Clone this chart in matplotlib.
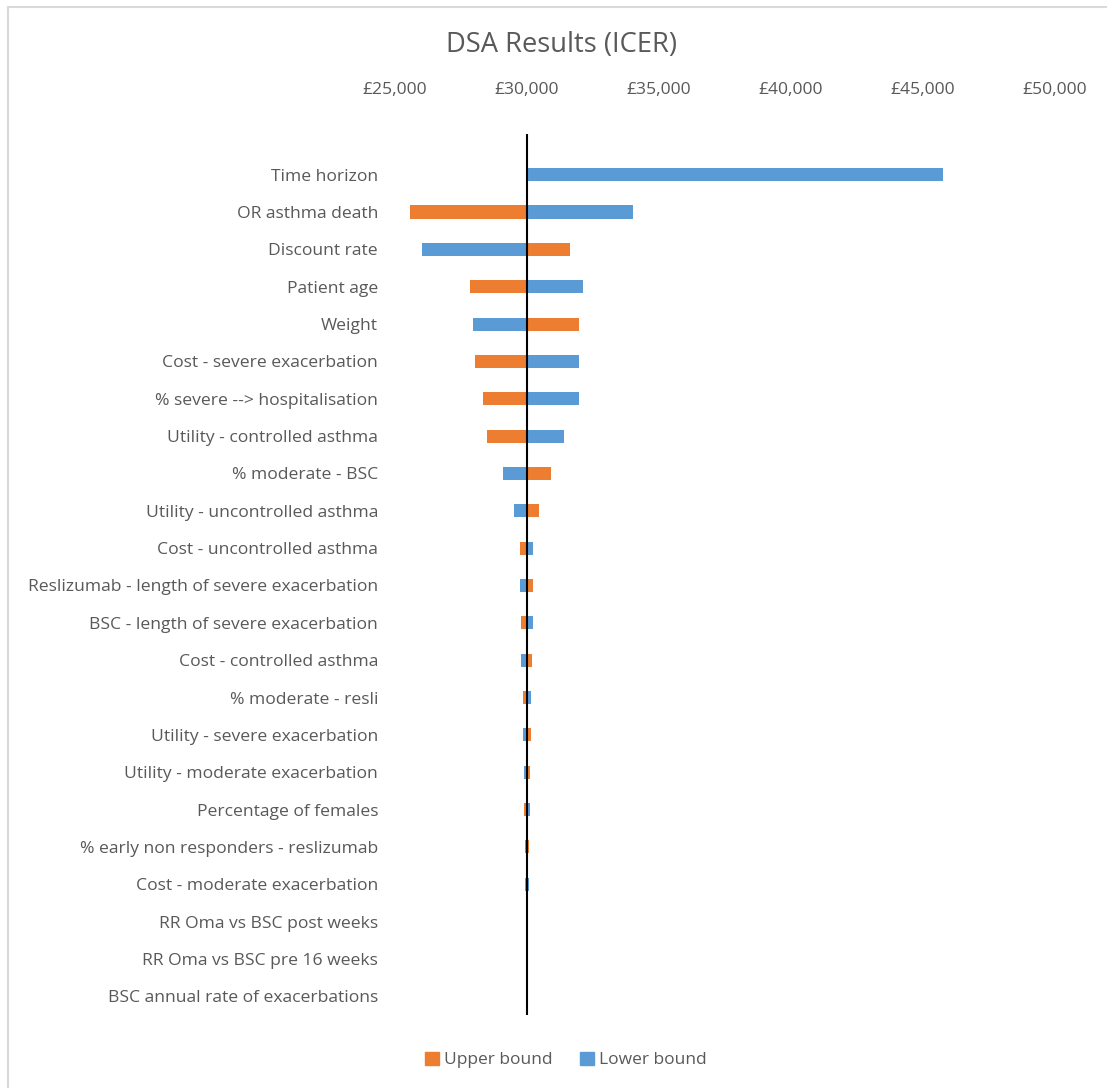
import numpy as np
import matplotlib.pyplot as plt
from matplotlib.patches import Rectangle, Patch
from matplotlib.ticker import FuncFormatter

# DSA tornado data, base case ICER = 30000
base = 30000
params = ["Time horizon", "OR asthma death", "Discount rate", "Patient age", "Weight",
          "Cost - severe exacerbation", "% severe --> hospitalisation",
          "Utility - controlled asthma", "% moderate - BSC", "Utility - uncontrolled asthma",
          "Cost - uncontrolled asthma", "Reslizumab - length of severe exacerbation",
          "BSC - length of severe exacerbation", "Cost - controlled asthma",
          "% moderate - resli", "Utility - severe exacerbation",
          "Utility - moderate exacerbation", "Percentage of females",
          "% early non responders - reslizumab", "Cost - moderate exacerbation",
          "RR Oma vs BSC post weeks", "RR Oma vs BSC pre 16 weeks",
          "BSC annual rate of exacerbations"]
upper = [30000, 25580, 31630, 27850, 31990, 28030, 28345, 28500, 30930, 30480,
         29745, 30227, 29785, 30190, 29850, 30150, 30125, 29885, 30085, 29935,
         30000, 30000, 30000]
lower = [45770, 34015, 26020, 32140, 27980, 31980, 31970, 31400, 29115, 29520,
         30250, 29745, 30240, 29795, 30150, 29850, 29885, 30125, 29935, 30075,
         30000, 30000, 30000]

orange = "#ED7D31"
blue = "#5B9BD5"
grey = "#595959"
font = "Open Sans"

fig = plt.figure(figsize=(11.07, 10.88), dpi=100)
W, H = 1107, 1088
ax = fig.add_axes([394.7 / W, (H - 1015) / H, 660 / W, 881 / H])

n = len(params)
y = np.arange(n)[::-1]
up = np.array(upper) - base
lo = np.array(lower) - base
ax.barh(y, up, left=base, height=0.35, color=orange, label="Upper bound")
ax.barh(y, lo, left=base, height=0.35, color=blue, label="Lower bound")
ax.axvline(base, color="black", lw=1.5)

ax.set_xlim(25000, 50000)
ax.set_ylim(-0.5, n - 0.5 + 22 / 37.35)
ax.xaxis.tick_top()
ax.set_xticks(np.arange(25000, 50001, 5000))
ax.xaxis.set_major_formatter(FuncFormatter(lambda v, p: "£{:,.0f}".format(v)))
ax.set_yticks(y)
ax.set_yticklabels(params)
ax.tick_params(length=0, colors=grey, labelsize=12.6)
ax.tick_params(axis="x", pad=26)
ax.tick_params(axis="y", pad=12)
for lab in ax.get_xticklabels() + ax.get_yticklabels():
    lab.set_fontfamily(font)
for s in ax.spines.values():
    s.set_visible(False)

fig.text(561 / W, 1 - 45 / H, "DSA Results (ICER)", ha="center", va="center",
         fontsize=19.7, color=grey, family=font)

handles = [Patch(color=orange, label="Upper bound"), Patch(color=blue, label="Lower bound")]
fig.legend(handles=handles, loc="center", bbox_to_anchor=(566 / W, 1 - 1060 / H), ncol=2,
           frameon=False, prop={"family": font, "size": 12.5}, labelcolor=grey,
           handlelength=0.8, handleheight=0.8, handletextpad=0.3, columnspacing=1.6)

fig.patches.append(Rectangle((8 / W, -0.01), 1.1, 1 - 7 / H + 0.01, transform=fig.transFigure,
                             fill=False, edgecolor="#d9d9d9", lw=1.5))

fig.savefig("out.png", dpi=100)
